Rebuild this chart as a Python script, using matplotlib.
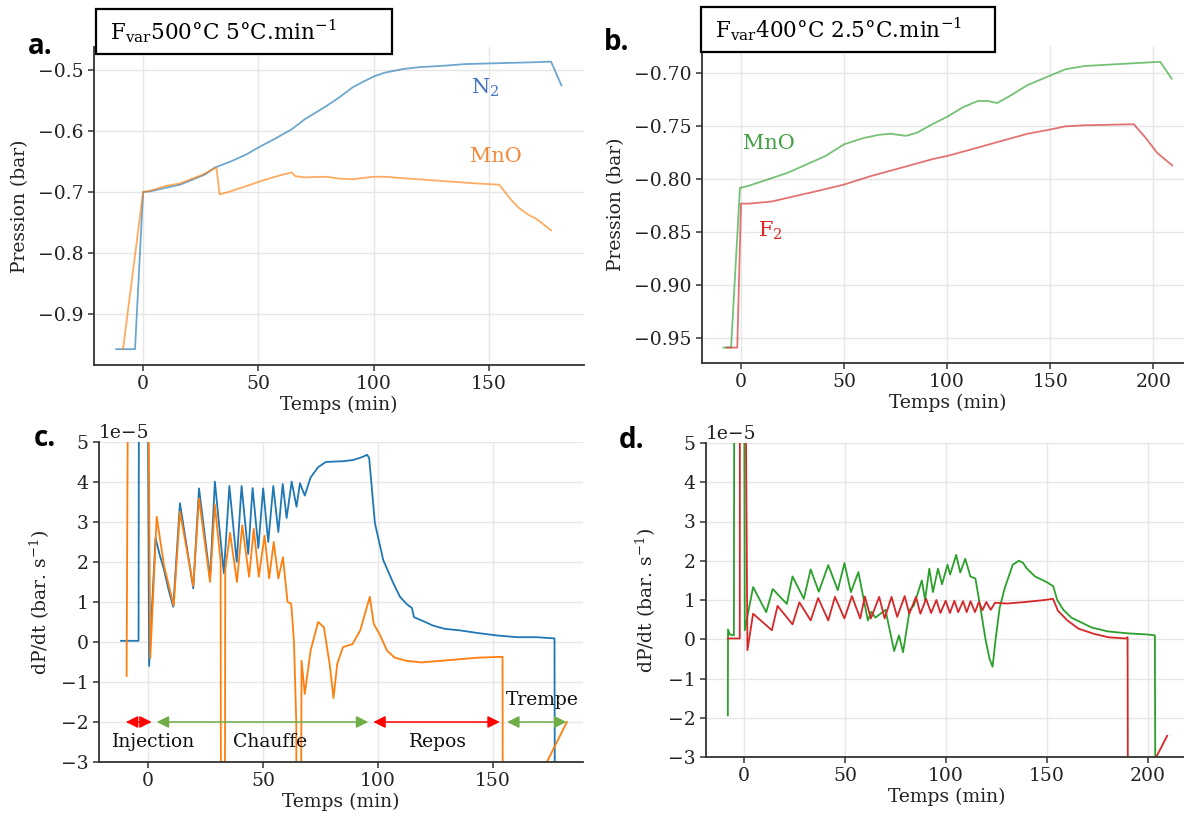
import matplotlib
matplotlib.use("Agg")
import matplotlib.pyplot as plt
from matplotlib.patches import Rectangle

plt.rcParams['font.family'] = ['DejaVu Serif']
plt.rcParams['mathtext.fontset'] = 'dejavuserif'
plt.rcParams['axes.unicode_minus'] = True

# ---------------- DATA ----------------
# Panel a : Fvar 500 C, 5 C/min  (pressure, bar)
a_n2_t = [-11.7, -3.5, 0.0, 3, 10, 16, 20, 27, 31, 38, 45, 50, 57, 64.5, 70, 79.5, 85, 91, 96,
          100.3, 105, 113, 120, 129.5, 140, 150, 160, 170, 177, 181.5]
a_n2_p = [-0.958, -0.958, -0.700, -0.699, -0.693, -0.688, -0.682, -0.671, -0.660, -0.650, -0.638,
          -0.627, -0.613, -0.597, -0.581, -0.559, -0.545, -0.528, -0.518, -0.510, -0.504, -0.498,
          -0.495, -0.493, -0.490, -0.489, -0.488, -0.487, -0.486, -0.525]
a_mno_t = [-8.7, 0.0, 3, 10, 16, 20, 25, 31.8, 33.2, 37, 45, 52, 60, 64.5, 66, 70, 79.5, 85, 91,
           100, 105, 115, 130, 145, 154.5, 159.5, 163, 167, 171, 177]
a_mno_p = [-0.958, -0.700, -0.698, -0.690, -0.686, -0.680, -0.673, -0.660, -0.704, -0.700, -0.690,
           -0.681, -0.672, -0.668, -0.674, -0.676, -0.675, -0.678, -0.679, -0.675, -0.675, -0.678,
           -0.682, -0.686, -0.688, -0.712, -0.726, -0.737, -0.745, -0.763]

# Panel b : Fvar 400 C, 2.5 C/min (pressure, bar)
b_mno_t = [-8.5, -4.8, -0.5, 0, 4, 13.3, 22.5, 31.8, 41, 50, 59.5, 67, 72.5, 80, 85.4, 92.8, 100,
           107.6, 115, 119.6, 124.2, 129.8, 139, 150, 157.5, 166.7, 185, 203.3, 208.9]
b_mno_p = [-0.959, -0.959, -0.808, -0.808, -0.806, -0.800, -0.794, -0.786, -0.778, -0.767, -0.761,
           -0.758, -0.757, -0.759, -0.756, -0.748, -0.741, -0.732, -0.726, -0.726, -0.728, -0.722,
           -0.711, -0.702, -0.696, -0.693, -0.691, -0.689, -0.705]
b_f2_t = [-7.0, -1.8, 0, 4, 15, 26, 37.3, 50, 63, 78, 92.8, 100, 111.3, 126, 139, 150, 157.5,
          166.7, 190.5, 196.3, 201.8, 209.2]
b_f2_p = [-0.959, -0.959, -0.823, -0.823, -0.821, -0.816, -0.811, -0.805, -0.797, -0.789, -0.781,
          -0.778, -0.772, -0.764, -0.757, -0.753, -0.750, -0.749, -0.748, -0.761, -0.775, -0.787]

# Panel c : dP/dt (1e-5 bar/s), same run as a
c_n2_t = [-11.7, -4.1, -3.9, -0.2, 0.5, 1.5, 3.3, 5, 7, 9, 11, 13.9, 19.7, 22.2, 27, 29.1, 33,
          35.4, 38.6, 40.7, 43.6, 45.5, 48, 50.1, 52.3, 54.5, 56.7, 58.6, 60.3, 62.5, 64.6, 66.1,
          68.2, 70.7, 74, 77.3, 80.6, 85, 89.3, 93, 95.3, 96.2, 98.7, 102.3, 106.7, 109.6, 112.5,
          114.8, 115.7, 119, 124, 129, 135.7, 144, 152.3, 160.7, 169, 176.8, 177.1, 181.5]
c_n2_v = [0.03, 0.03, 8, 8, -0.6, 0.6, 2.6, 2.2, 1.8, 1.3, 0.88, 3.47, 1.34, 3.84, 1.59, 4.01,
          1.72, 3.9, 2.0, 3.9, 2.2, 3.85, 2.35, 3.84, 2.5, 3.9, 2.75, 3.95, 3.1, 4.01, 3.38, 3.97,
          3.66, 4.11, 4.37, 4.5, 4.51, 4.52, 4.55, 4.62, 4.68, 4.6, 2.97, 2.05, 1.47, 1.13, 0.95,
          0.85, 0.62, 0.54, 0.41, 0.33, 0.29, 0.22, 0.16, 0.12, 0.12, 0.09, -8, -8]
c_mno_t = [-9.3, -8.6, -8.4, 0.0, 1.0, 3.8, 7, 11.2, 13.9, 19.7, 22.2, 27, 29.1, 31.6, 31.8, 33.4,
           33.6, 35.7, 38.7, 41, 44, 46, 48.2, 50.7, 52.7, 54.7, 56.7, 58.7, 60.7, 62.3, 63.5, 64.5,
           64.7, 66.3, 66.8, 68.2, 70.7, 74, 76.5, 79, 80.7, 82.3, 84.8, 89, 92.3, 96.5, 98.2,
           100.7, 104, 107.3, 112.3, 119, 127.3, 135.7, 144, 154.2, 154.4, 173.5, 182.2]
c_mno_v = [-0.85, 8, 8, 8, -0.4, 3.13, 1.9, 0.91, 3.26, 1.4, 3.59, 1.5, 3.43, 2.0, -8, -8, 1.8,
           2.73, 1.5, 2.92, 1.63, 2.83, 1.63, 2.66, 1.59, 2.5, 1.59, 2.12, 1.0, 0.96, 0.0, -2.0,
           -8, -8, -0.47, -1.3, -0.22, 0.5, 0.37, -0.55, -1.4, -0.55, -0.13, -0.05, 0.29, 1.13,
           0.45, 0.2, -0.22, -0.39, -0.47, -0.51, -0.47, -0.43, -0.39, -0.37, -8, -3.0, -2.0]

# Panel d : dP/dt (1e-5 bar/s), same run as b
d_mno_t = [-8, -7.9, -7, -5.0, -4.8, 0.0, 0.4, 4.5, 11, 14.2, 21.2, 24, 29.6, 33, 37, 41.7, 46.4,
           49.7, 52.9, 56.6, 61.3, 63, 65, 70, 74.3, 76.7, 78.7, 82, 84, 88, 89.6, 91.7, 93.5, 96,
           98, 100.7, 102, 105, 107, 109.5, 112, 114.5, 117, 119.5, 121.5, 123, 124.5, 126.5, 129,
           131, 133, 136, 138, 140, 144, 150, 153, 155, 158, 162, 166, 172, 180, 190, 200, 203.3,
           203.8, 209]
d_mno_v = [-1.94, 0.25, 0.12, 0.1, 8, 8, 0.23, 1.33, 0.69, 1.28, 0.9, 1.6, 1.03, 1.78, 1.21, 1.89,
           1.25, 1.94, 1.2, 1.71, 0.48, 0.7, 0.55, 0.75, -0.3, 0.1, -0.33, 0.75, 0.85, 1.5, 1.0,
           1.8, 1.2, 1.8, 1.4, 1.9, 1.65, 2.15, 1.7, 2.05, 1.6, 1.55, 0.8, 0.0, -0.5, -0.7, 0.0,
           0.8, 1.3, 1.6, 1.9, 2.0, 1.95, 1.8, 1.6, 1.45, 1.35, 1.0, 0.75, 0.55, 0.45, 0.3, 0.2,
           0.15, 0.12, 0.1, -8, -8]
d_f2_t = [-8, -2.1, -2.0, 0.6, 1.7, 4.5, 13.8, 16.6, 24, 27.4, 33, 36.7, 41.7, 45, 49.7, 53.4,
          57.5, 59.8, 62.8, 66.9, 69.6, 73, 75.8, 79.5, 81.8, 85.1, 87.3, 90.1, 92.6, 95.2, 97.2,
          99.8, 101.9, 104.1, 106, 108.4, 110.2, 112.1, 114.3, 116.2, 118, 119.9, 122.1, 124.2,
          130.2, 139.5, 148.8, 152.9, 155.3, 160, 165.5, 173, 180.4, 188.8, 189.8, 190.1, 204,
          209.4]
d_f2_v = [0.02, 0.02, 8, 8, -0.28, 0.65, 0.23, 0.85, 0.38, 0.94, 0.48, 1.05, 0.48, 1.08, 0.53,
          1.1, 0.53, 1.09, 0.53, 1.08, 0.53, 1.08, 0.57, 1.1, 0.65, 1.08, 0.65, 1.03, 0.67, 1.0,
          0.67, 0.98, 0.67, 0.98, 0.69, 0.97, 0.69, 0.97, 0.69, 0.95, 0.74, 0.95, 0.75, 0.93,
          0.91, 0.95, 1.0, 1.03, 0.73, 0.48, 0.27, 0.14, 0.05, 0.02, 0.05, -8, -3.0, -2.46]

# Phases annotated on panel c (minutes)
phase_names = ["Injection", "Chauffe", "Repos", "Trempe"]
phase_start = [-9.6, 3.8, 98.0, 156.2]
phase_end = [1.6, 95.8, 153.0, 182.0]
phase_colors = ["#ff0000", "#70ad47", "#ff0000", "#70ad47"]

SCALE = 1e-5

# ---------------- FIGURE ----------------
W, H = 1184, 816
fig = plt.figure(figsize=(W / 100, H / 100), dpi=100)


def px_axes(x0, y0, x1, y1):
    return fig.add_axes([x0 / W, 1 - y1 / H, (x1 - x0) / W, (y1 - y0) / H])


SPINE = '#333333'
GRID = '#e6e6e6'
FS = 13.5


def style(ax):
    for s in ['top', 'right']:
        ax.spines[s].set_visible(False)
    for s in ['left', 'bottom']:
        ax.spines[s].set_color(SPINE)
        ax.spines[s].set_linewidth(1.3)
    ax.grid(True, color=GRID, lw=1.0)
    ax.set_axisbelow(True)
    ax.tick_params(labelsize=FS, length=4, width=1.1, color=SPINE, labelcolor='#222222')
    ax.set_xlabel('Temps (min)', fontsize=FS, color='#222222', labelpad=2)


axa = px_axes(94, 47, 584, 365)
axb = px_axes(702, 46, 1194, 363)
axc = px_axes(99, 442, 583, 762)
axd = px_axes(706, 443, 1188, 757)

# Panel a
axa.plot(a_n2_t, a_n2_p, color='#1f77b4', alpha=0.65, lw=1.3)
axa.plot(a_mno_t, a_mno_p, color='#ff7f0e', alpha=0.65, lw=1.3)
axa.set_xlim(-21.3, 191.3)
axa.set_ylim(-0.984, -0.462)
axa.set_yticks([-0.9, -0.8, -0.7, -0.6, -0.5])
axa.set_xticks([0, 50, 100, 150])
style(axa)
axa.set_ylabel('Pression (bar)', fontsize=FS, color='#222222')
axa.yaxis.set_label_coords(-0.133, 0.5)
axa.text(148.5, -0.529, r'N$_2$', color='#4472c4', fontsize=15, ha='center', va='center')
axa.text(153, -0.641, 'MnO', color='#f5883a', fontsize=15, ha='center', va='center')

# Panel b
axb.plot(b_mno_t, b_mno_p, color='#2ca02c', alpha=0.65, lw=1.3)
axb.plot(b_f2_t, b_f2_p, color='#d62728', alpha=0.65, lw=1.3)
axb.set_xlim(-18.9, 219.7)
axb.set_ylim(-0.9736, -0.6741)
axb.set_yticks([-0.95, -0.90, -0.85, -0.80, -0.75, -0.70])
axb.set_xticks([0, 50, 100, 150, 200])
style(axb)
axb.yaxis.set_major_formatter(matplotlib.ticker.FuncFormatter(
    lambda v, p: ('%.2f' % v).replace('-', '\u2212')))
axb.set_ylabel('Pression (bar)', fontsize=FS, color='#222222')
axb.yaxis.set_label_coords(-0.157, 0.5)
axb.text(13.7, -0.766, 'MnO', color='#45a045', fontsize=15, ha='center', va='center')
axb.text(14.2, -0.849, r'F$_2$', color='#e02424', fontsize=15, ha='center', va='center')

# Panel c
axc.plot(c_n2_t, [v * SCALE for v in c_n2_v], color='#1f77b4', lw=1.3)
axc.plot(c_mno_t, [v * SCALE for v in c_mno_v], color='#ff7f0e', lw=1.3)
axc.set_xlim(-21.3, 189.2)
axc.set_ylim(-3 * SCALE, 5 * SCALE)
axc.set_xticks([0, 50, 100, 150])
axc.set_yticks([v * SCALE for v in range(-3, 6)])
style(axc)
axc.yaxis.get_offset_text().set_fontsize(FS)
axc.set_ylabel(r'dP/dt (bar. s$^{-1}$)', fontsize=FS, color='#222222')
axc.yaxis.set_label_coords(-0.097, 0.5)
for name, s, e, col in zip(phase_names, phase_start, phase_end, phase_colors):
    axc.annotate('', xy=(e, -2 * SCALE), xytext=(s, -2 * SCALE),
                 arrowprops=dict(arrowstyle='<|-|>', color=col, lw=1.1,
                                 mutation_scale=18, shrinkA=0, shrinkB=0))
label_x = [2.3, 53.0, 126.0, 171.3]
label_y = [-2.5, -2.5, -2.5, -1.45]
for name, lx, ly in zip(phase_names, label_x, label_y):
    axc.text(lx, ly * SCALE, name, fontsize=FS, ha='center', va='center', color='#111111')

# Panel d
axd.plot(d_mno_t, [v * SCALE for v in d_mno_v], color='#2ca02c', lw=1.3)
axd.plot(d_f2_t, [v * SCALE for v in d_f2_v], color='#d62728', lw=1.3)
axd.set_xlim(-18.8, 219.7)
axd.set_ylim(-3 * SCALE, 5 * SCALE)
axd.set_xticks([0, 50, 100, 150, 200])
axd.set_yticks([v * SCALE for v in range(-3, 6)])
style(axd)
axd.yaxis.get_offset_text().set_fontsize(FS)
axd.set_ylabel(r'dP/dt (bar. s$^{-1}$)', fontsize=FS, color='#222222')
axd.yaxis.set_label_coords(-0.10, 0.5)

# Panel letters
for (x, y), lab in zip([(40, 47), (617, 42), (45, 438), (632, 441)], ['a.', 'b.', 'c.', 'd.']):
    fig.text(x / W, 1 - y / H, lab, fontsize=20, fontweight='bold', family='Open Sans',
             ha='center', va='center')

# Condition boxes
for (x0, y0, x1, y1), tx, txt in zip(
        [(96, 9, 392, 54), (701, 7, 995, 52)], [110, 715],
        [r'F$_{\mathrm{var}}$500°C 5°C.min$^{\mathrm{-1}}$',
         r'F$_{\mathrm{var}}$400°C 2.5°C.min$^{\mathrm{-1}}$']):
    fig.patches.append(Rectangle((x0 / W, 1 - y1 / H), (x1 - x0) / W, (y1 - y0) / H,
                                 transform=fig.transFigure, fill=True, facecolor='white',
                                 edgecolor='black', lw=1.6, zorder=5))
    fig.text(tx / W, 1 - ((y0 + y1) / 2) / H, txt, fontsize=15.5, ha='left', va='center',
             zorder=6)

fig.savefig('out.png', dpi=100)
